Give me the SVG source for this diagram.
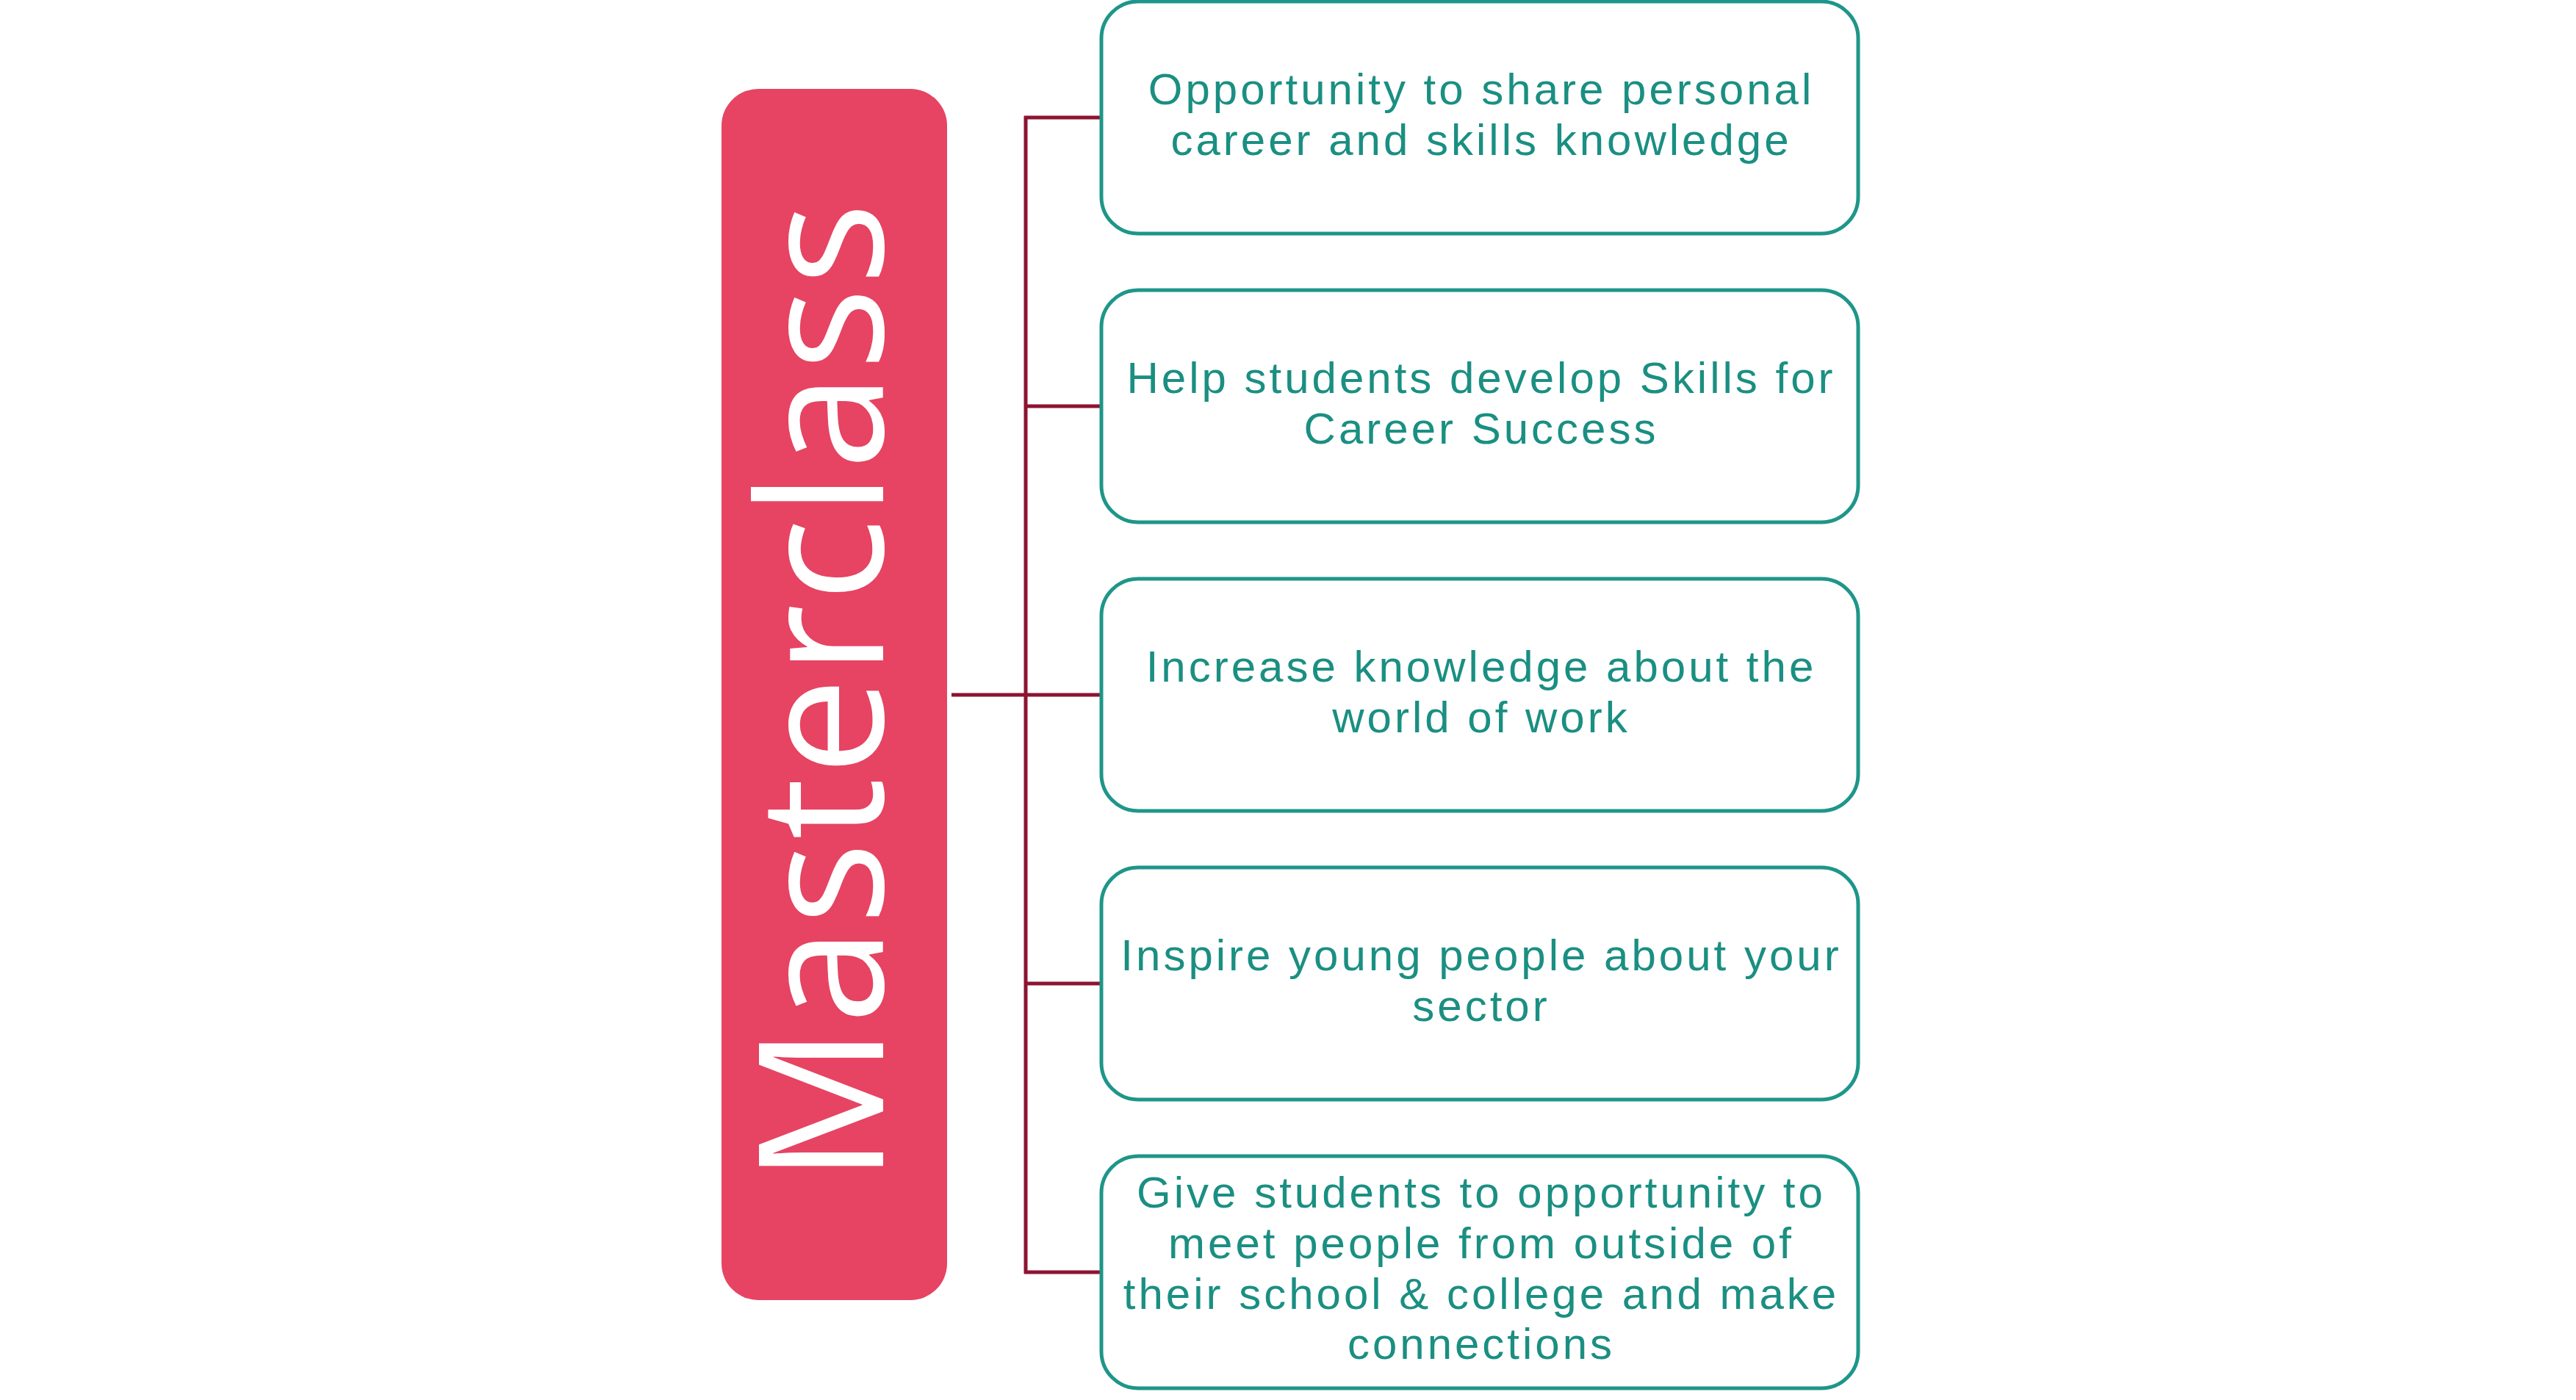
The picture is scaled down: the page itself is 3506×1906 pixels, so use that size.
<svg xmlns="http://www.w3.org/2000/svg" width="3506" height="1906" viewBox="0 0 3506 1906">
<style>
.box{fill:#ffffff;stroke:#1e9689;stroke-width:5}
.lbl{font-family:"Liberation Sans",Arial,sans-serif;font-size:60px;letter-spacing:4px;fill:#1a8f82;text-anchor:middle}
.conn{stroke:#8e1332;stroke-width:5;fill:none}
</style>
<rect width="3506" height="1906" fill="#ffffff"/>
<g id="connectors">
<line class="conn" x1="1295" y1="946" x2="1396" y2="946"/>
<line class="conn" x1="1396" y1="158" x2="1396" y2="1734"/>
<line class="conn" x1="1394" y1="160" x2="1499" y2="160"/>
<line class="conn" x1="1396" y1="553" x2="1499" y2="553"/>
<line class="conn" x1="1396" y1="946" x2="1499" y2="946"/>
<line class="conn" x1="1396" y1="1339" x2="1499" y2="1339"/>
<line class="conn" x1="1394" y1="1732" x2="1499" y2="1732"/>
</g>
<g id="masterclass">
<rect x="982" y="121" width="307" height="1649" rx="50" ry="50" fill="#e64462"/>
<text x="0" y="0" transform="translate(1202,943) rotate(-90)" font-family="'Open Sans','Liberation Sans',sans-serif" font-size="237" fill="#ffffff" text-anchor="middle" textLength="1335" lengthAdjust="spacing">Masterclass</text>
</g>
<g id="node1">
<rect class="box" x="1499" y="2" width="1030" height="316" rx="50" ry="50"/>
<text class="lbl" x="2016" y="142">Opportunity to share personal</text>
<text class="lbl" x="2016" y="211">career and skills knowledge</text>
</g>
<g id="node2">
<rect class="box" x="1499" y="395" width="1030" height="316" rx="50" ry="50"/>
<text class="lbl" x="2016" y="535">Help students develop Skills for</text>
<text class="lbl" x="2016" y="604">Career Success</text>
</g>
<g id="node3">
<rect class="box" x="1499" y="788" width="1030" height="316" rx="50" ry="50"/>
<text class="lbl" x="2016" y="928">Increase knowledge about the</text>
<text class="lbl" x="2016" y="997">world of work</text>
</g>
<g id="node4">
<rect class="box" x="1499" y="1181" width="1030" height="316" rx="50" ry="50"/>
<text class="lbl" x="2016" y="1321">Inspire young people about your</text>
<text class="lbl" x="2016" y="1390">sector</text>
</g>
<g id="node5">
<rect class="box" x="1499" y="1574" width="1030" height="316" rx="50" ry="50"/>
<text class="lbl" x="2016" y="1644">Give students to opportunity to</text>
<text class="lbl" x="2016" y="1713">meet people from outside of</text>
<text class="lbl" x="2016" y="1782">their school &amp; college and make</text>
<text class="lbl" x="2016" y="1850">connections</text>
</g>
</svg>
